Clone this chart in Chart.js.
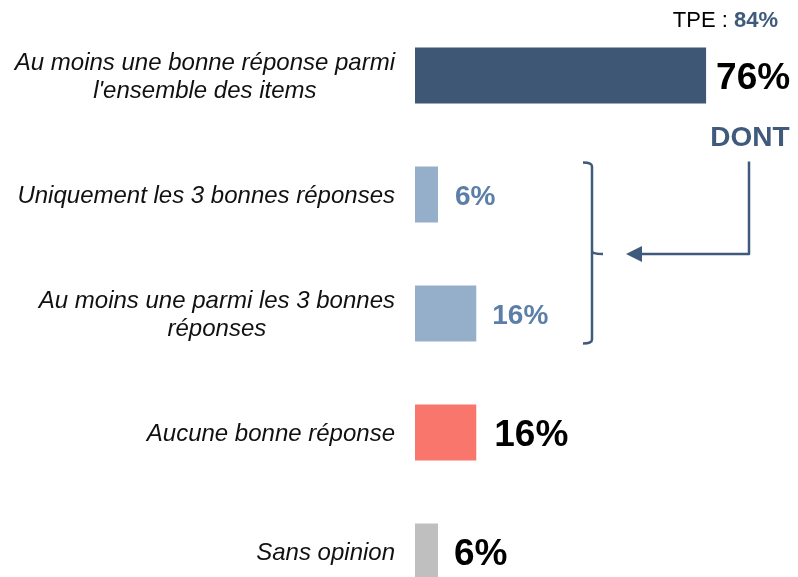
<!DOCTYPE html>
<html>
<head>
<meta charset="utf-8">
<script src="https://cdn.jsdelivr.net/npm/chart.js@4"></script>
<style>
  html, body { margin: 0; padding: 0; background: #fff; overflow: hidden; }
  #wrap { width: 798px; height: 612px; }
</style>
</head>
<body>
<div id="wrap"><canvas id="graphique" width="798" height="612"></canvas></div>
<script>
// données
const categories = [
  ["Au moins une bonne réponse parmi", "l'ensemble des items"],
  ["Uniquement les 3 bonnes réponses"],
  ["Au moins une parmi les 3 bonnes", "réponses"],
  ["Aucune bonne réponse"],
  ["Sans opinion"]
];
const valeurs = [76, 6, 16, 16, 6];
const etiquettes = ["76%", "6%", "16%", "16%", "6%"];
const tpeTexte = "TPE : ";
const tpeValeur = "84%";
const dontTexte = "DONT";

// styles
const couleursBarres = ["#3D5775", "#95AFCB", "#95AFCB", "#F8766C", "#BFBFBF"];
const couleursEtiq = ["#000", "#5B7FA8", "#5B7FA8", "#000", "#000"];
const taillesEtiq = [37, 28, 28, 37, 37];
const ecartsEtiq = [10, 17, 16, 18, 16];
const marine = "#3F5A7B";
const police = '"Liberation Sans", Arial, sans-serif';

const pluginTextes = {
  id: 'textes',
  afterDatasetsDraw(chart) {
    const ctx = chart.ctx;
    const yScale = chart.scales.y;
    const area = chart.chartArea;
    ctx.save();

    // libellés des catégories (centrés dans un bloc aligné à droite)
    ctx.font = 'italic 24px ' + police;
    ctx.fillStyle = '#111';
    ctx.textAlign = 'center';
    ctx.textBaseline = 'middle';
    const hauteurLigne = 27.5;
    categories.forEach((lignes, i) => {
      const y = yScale.getPixelForValue(i) + 2;
      const largeur = Math.max(...lignes.map(l => ctx.measureText(l).width));
      const cx = area.left - 20 - largeur / 2;
      const y0 = y - (lignes.length - 1) * hauteurLigne / 2;
      lignes.forEach((l, k) => ctx.fillText(l, cx, y0 + k * hauteurLigne));
    });

    // valeurs au bout des barres
    const meta = chart.getDatasetMeta(0);
    ctx.textAlign = 'left';
    meta.data.forEach((barre, i) => {
      ctx.font = 'bold ' + taillesEtiq[i] + 'px ' + police;
      ctx.fillStyle = couleursEtiq[i];
      ctx.fillText(etiquettes[i], barre.x + ecartsEtiq[i], barre.y + 3);
    });

    // TPE : 84%
    ctx.textAlign = 'right';
    ctx.font = 'bold 22px ' + police;
    ctx.fillStyle = marine;
    ctx.fillText(tpeValeur, 778, 21);
    const lv = ctx.measureText(tpeValeur).width;
    ctx.font = '22px ' + police;
    ctx.fillStyle = '#000';
    ctx.fillText(tpeTexte, 778 - lv, 21);

    // DONT
    ctx.textAlign = 'center';
    ctx.font = 'bold 28px ' + police;
    ctx.fillStyle = marine;
    ctx.fillText(dontTexte, 750, 138.5);

    // accolade et flèche
    const haut = yScale.getPixelForValue(1) - 32;
    const bas = yScale.getPixelForValue(2) + 30;
    const milieu = (yScale.getPixelForValue(1) + yScale.getPixelForValue(2)) / 2;
    ctx.strokeStyle = marine;
    ctx.fillStyle = marine;
    ctx.lineWidth = 2.5;
    ctx.lineJoin = 'round';
    ctx.beginPath();
    ctx.moveTo(583, haut);
    ctx.quadraticCurveTo(592, haut, 592, haut + 4);
    ctx.lineTo(592, milieu - 3);
    ctx.quadraticCurveTo(592, milieu, 603, milieu);
    ctx.moveTo(592, milieu - 3);
    ctx.quadraticCurveTo(592, milieu, 592, milieu + 3);
    ctx.lineTo(592, bas - 4);
    ctx.quadraticCurveTo(592, bas, 583, bas);
    ctx.stroke();

    ctx.beginPath();
    ctx.moveTo(749, haut - 1);
    ctx.lineTo(749, milieu);
    ctx.lineTo(640, milieu);
    ctx.stroke();
    ctx.beginPath();
    ctx.moveTo(626, milieu);
    ctx.lineTo(642, milieu - 8);
    ctx.lineTo(642, milieu + 8);
    ctx.closePath();
    ctx.fill();

    ctx.restore();
  }
};

new Chart(document.getElementById('graphique'), {
  type: 'bar',
  data: {
    labels: categories,
    datasets: [{
      data: valeurs,
      backgroundColor: couleursBarres,
      borderWidth: 0,
      categoryPercentage: 1,
      barPercentage: 0.47
    }]
  },
  options: {
    indexAxis: 'y',
    responsive: false,
    animation: false,
    layout: { padding: { left: 415, right: 0, top: 16, bottom: 1 } },
    scales: {
      x: { display: false, min: 0, max: 100 },
      y: { display: false }
    },
    plugins: {
      legend: { display: false },
      tooltip: { enabled: false }
    }
  },
  plugins: [pluginTextes]
});
</script>
</body>
</html>
